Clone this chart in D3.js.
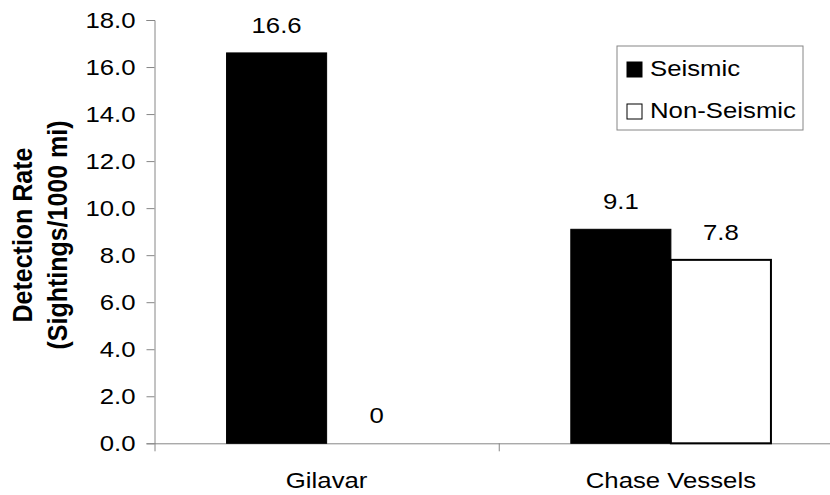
<!DOCTYPE html>
<html>
<head>
<meta charset="utf-8">
<script src="https://cdn.jsdelivr.net/npm/d3@7"></script>
<style>
  body { margin: 0; background: #fff; }
  svg { display: block; font-family: Arial, "Liberation Sans", sans-serif; }
</style>
</head>
<body>
<script>
// data
var categories = ["Gilavar", "Chase Vessels"];
var series = ["Seismic", "Non-Seismic"];
var seismic = [16.6, 9.1];
var nonSeismic = [0, 7.8];
var yTicks = [0, 2, 4, 6, 8, 10, 12, 14, 16, 18];

var width = 830, height = 495;
var plotLeft = 154.5, plotRight = 843, plotTop = 20, plotBottom = 443.3;
var fs = 23;
var sx = 1.12; // text in the reference is a bit wide
var axisColor = "#868686";

// place a text at x,y with the horizontal stretch
function wide(x, y, extra) {
    return "translate(" + x + "," + y + ") scale(" + sx + ",1)" + (extra || "");
}

var svg = d3.select("body").append("svg")
    .attr("width", width)
    .attr("height", height);

var rows = categories.map(function (c, i) {
    return { name: c, values: [seismic[i], nonSeismic[i]] };
});

// scales
var x0 = d3.scaleBand().domain(categories).range([plotLeft, plotRight]);
var x1 = d3.scaleBand().domain(series).range([0, x0.bandwidth()]).paddingOuter(0.72);
var y = d3.scaleLinear().domain([0, 18]).range([plotBottom, plotTop]);
var fill = d3.scaleOrdinal().domain(series).range(["#000", "#fff"]);

// y axis
var yAxis = svg.append("g")
    .attr("transform", "translate(" + plotLeft + ",0)")
    .call(d3.axisLeft(y).tickValues(yTicks).tickSize(8)
        .tickFormat(d3.format(".1f")));
yAxis.selectAll("path, line").attr("stroke", axisColor);
yAxis.selectAll("text")
    .attr("x", null)
    .attr("transform", wide(-19, 0))
    .attr("font-size", fs).attr("fill", "#000")
    .attr("font-family", "Arial, 'Liberation Sans', sans-serif");

// x axis: ticks at category boundaries
var xb = d3.scaleLinear().domain([0, categories.length]).range([plotLeft, plotRight]);
var xAxis = svg.append("g")
    .attr("transform", "translate(0," + plotBottom + ")")
    .call(d3.axisBottom(xb).tickValues(d3.range(categories.length + 1))
        .tickSize(8).tickSizeOuter(0).tickFormat(""));
xAxis.selectAll("path, line").attr("stroke", axisColor);

// category labels
svg.append("g").selectAll("text")
    .data(categories)
    .enter().append("text")
    .attr("transform", function (d) { return wide(x0(d) + x0.bandwidth() / 2, plotBottom + 45); })
    .attr("text-anchor", "middle")
    .attr("font-size", fs)
    .text(function (d) { return d; });

// bars
var groups = svg.append("g").selectAll("g")
    .data(rows)
    .enter().append("g")
    .attr("transform", function (d) { return "translate(" + x0(d.name) + ",0)"; });

function pairs(d) {
    return d.values.map(function (v, i) { return { s: series[i], v: v }; });
}

groups.selectAll("rect")
    .data(pairs)
    .enter().append("rect")
    .filter(function (d) { return d.v > 0; })
    .attr("x", function (d) { return x1(d.s); })
    .attr("y", function (d) { return y(d.v); })
    .attr("width", x1.bandwidth())
    .attr("height", function (d) { return plotBottom - y(d.v); })
    .attr("fill", function (d) { return fill(d.s); })
    .attr("stroke", "#000")
    .attr("stroke-width", function (d) { return d.s == "Seismic" ? 1 : 2; });

groups.selectAll("text")
    .data(pairs)
    .enter().append("text")
    .attr("transform", function (d) { return wide(x1(d.s) + x1.bandwidth() / 2, y(d.v) - 20); })
    .attr("text-anchor", "middle")
    .attr("font-size", fs)
    .text(function (d) { return d.v; });

// y title
var yt = svg.append("text")
    .attr("transform", wide(32, 235, " rotate(-90)"))
    .attr("text-anchor", "middle")
    .attr("font-size", 25)
    .attr("font-weight", "bold");
yt.append("tspan").attr("x", 0).attr("y", 0).text("Detection Rate");
yt.append("tspan").attr("x", 0).attr("y", 31).text("(Sightings/1000 mi)");

// legend
var lg = svg.append("g").attr("transform", "translate(617,46)");
lg.append("rect")
    .attr("width", 186).attr("height", 84)
    .attr("fill", "#fff").attr("stroke", axisColor);
var items = lg.selectAll("g.item")
    .data(series)
    .enter().append("g")
    .attr("class", "item")
    .attr("transform", function (d, i) { return "translate(10," + (16 + i * 42) + ")"; });
items.append("rect")
    .attr("width", 15).attr("height", 15)
    .attr("fill", function (d) { return fill(d); })
    .attr("stroke", "#000");
items.append("text")
    .attr("transform", wide(23, 14))
    .attr("font-size", fs)
    .text(function (d) { return d; });
</script>
</body>
</html>
